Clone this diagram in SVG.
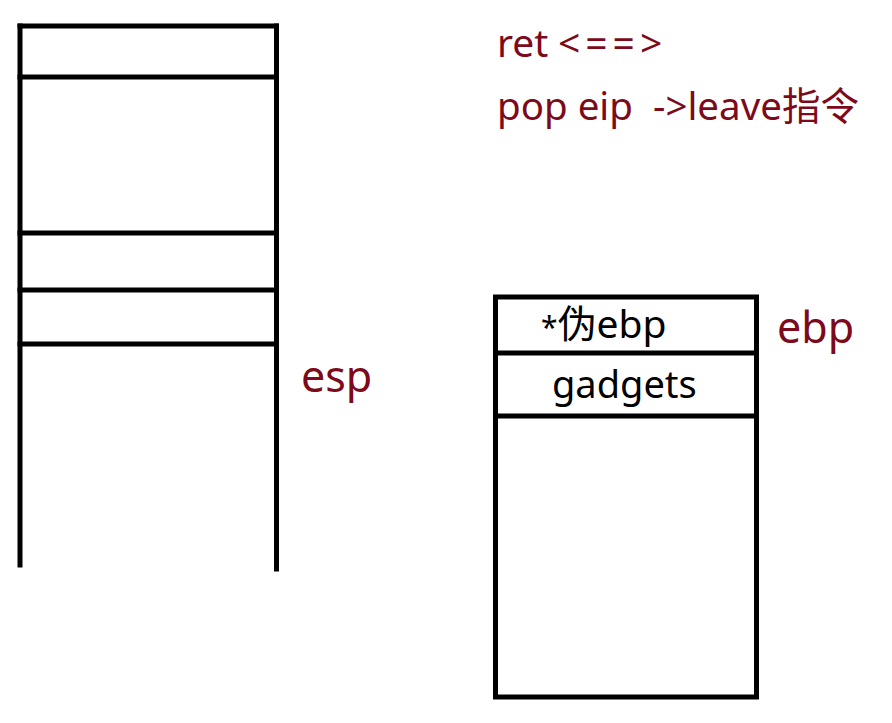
<svg xmlns="http://www.w3.org/2000/svg" width="892" height="723" viewBox="0 0 892 723">
<style>
.ln{stroke:#000;stroke-width:5;fill:none;stroke-linecap:square}
.t{font-family:"Noto Sans","Noto Sans CJK SC",sans-serif;font-size:38px}
.red{fill:#7d0a1a}
.blk{fill:#000}
</style>
<rect width="892" height="723" fill="#fff"/>
<g id="stack-left">
<line class="ln" x1="20" y1="26" x2="20" y2="565"/>
<line class="ln" x1="276.5" y1="26" x2="276.5" y2="569"/>
<line class="ln" x1="20" y1="26" x2="276.5" y2="26"/>
<line class="ln" x1="20" y1="77" x2="276.5" y2="77"/>
<line class="ln" x1="20" y1="233" x2="276.5" y2="233"/>
<line class="ln" x1="20" y1="290" x2="276.5" y2="290"/>
<line class="ln" x1="20" y1="344" x2="276.5" y2="344"/>
</g>
<g id="label-esp"><text class="t red" x="301" y="392" style="font-size:43px">esp</text></g>
<g id="note">
<text class="t red" x="497" y="57" style="font-size:39px">ret<tspan x="558" letter-spacing="5">&lt;==&gt;</tspan></text>
<text class="t red" x="497" y="120" style="font-size:38.5px" xml:space="preserve">pop eip  -&gt;leave指令</text>
</g>
<g id="stack-right">
<rect class="ln" x="495.5" y="297" width="261" height="400"/>
<line class="ln" x1="495.5" y1="353" x2="756.5" y2="353"/>
<line class="ln" x1="500" y1="416" x2="756.5" y2="416"/>
<text class="t blk" x="541" y="338" style="font-size:39px"><tspan style="font-size:30px">*</tspan>伪ebp</text>
<text class="t blk" x="552" y="398" style="font-size:38px">gadgets</text>
</g>
<g id="label-ebp"><text class="t red" x="777" y="343" style="font-size:43px">ebp</text></g>
<g id="connectors"></g>
</svg>
